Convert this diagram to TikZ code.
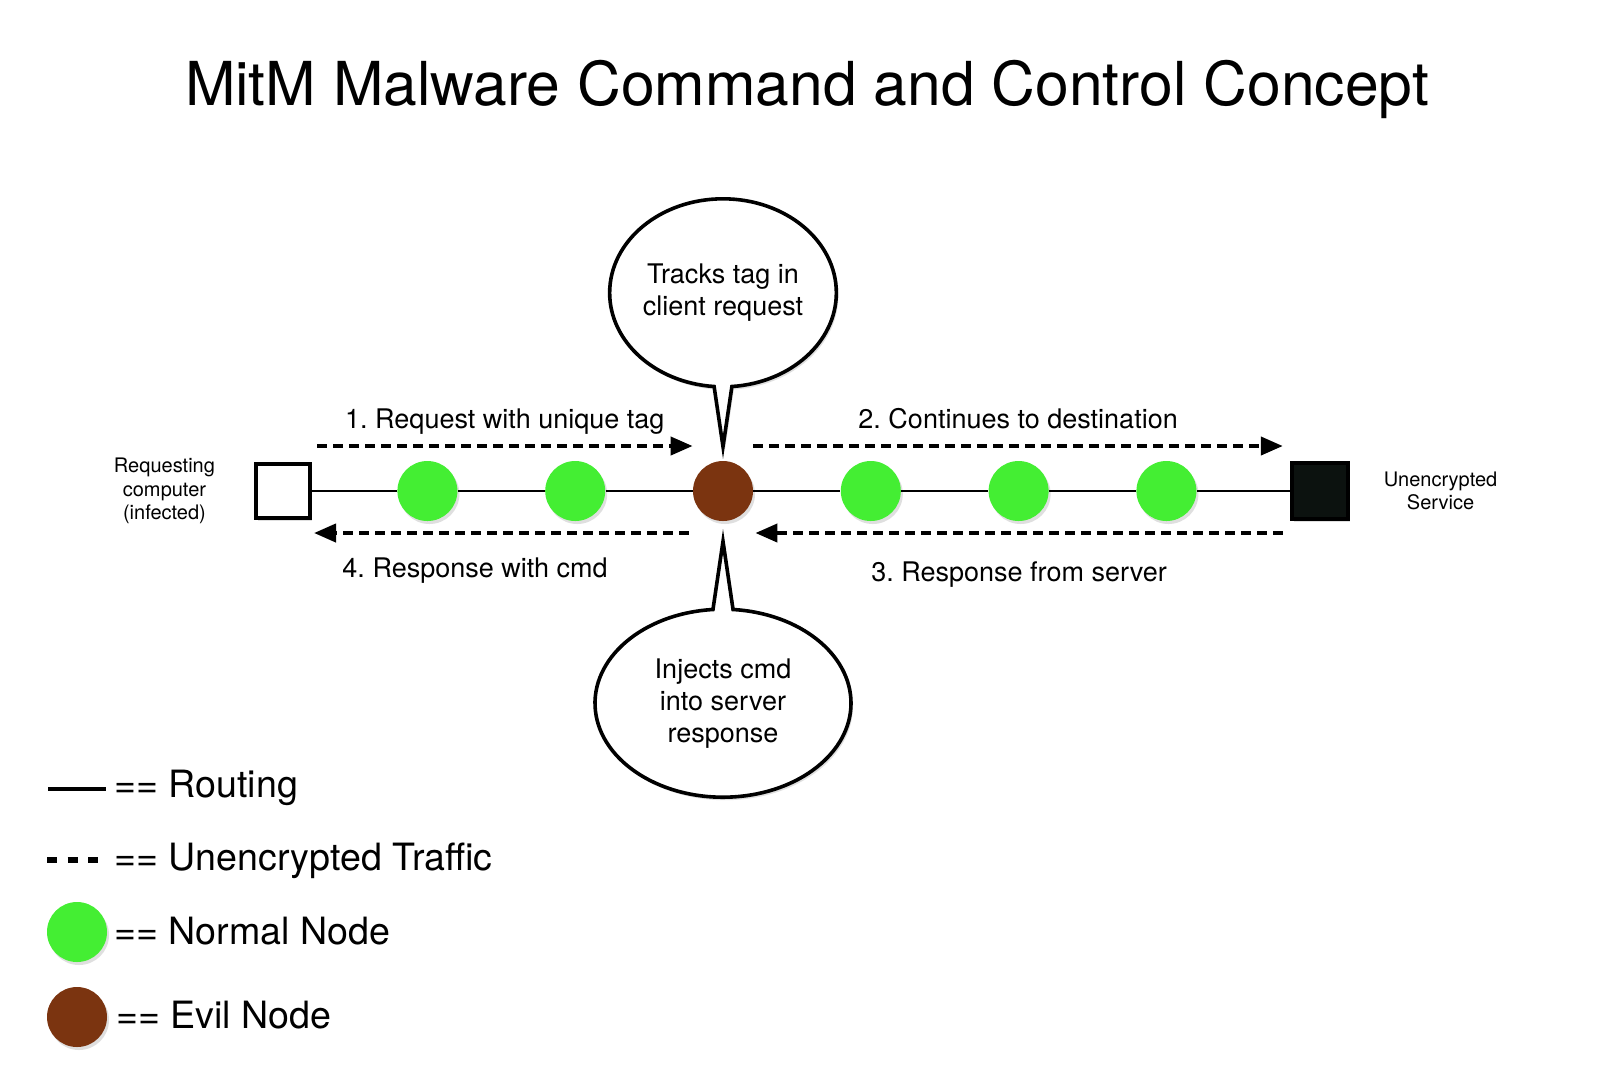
\documentclass[tikz,border=0pt]{standalone}
\usepackage{fontspec}
\setmainfont{TeX Gyre Heros}
\usetikzlibrary{arrows.meta,positioning,calc,shapes.callouts,shadows}
\usepackage{xcolor}
\definecolor{normal}{HTML}{44EE33}
\definecolor{evil}{HTML}{7B3410}
\definecolor{server}{HTML}{0C120F}
\frenchspacing

\begin{document}
\begin{tikzpicture}[
    x=0.5pt, y=-0.5pt,
    node distance=43.5pt,
    shade/.style={drop shadow={opacity=0.25, shadow xshift=1pt, shadow yshift=-1.5pt}},
    hop/.style={circle, fill=normal, minimum size=30pt, inner sep=0pt, shade},
    evilhop/.style={hop, fill=evil},
    host/.style={rectangle, draw, line width=2pt, minimum size=27pt, inner sep=0pt, fill=white, shade},
    route/.style={line width=1pt},
    traffic/.style={line width=2pt, dash pattern=on 5pt off 3pt, -{Triangle[length=11pt,width=9pt]}},
    bubble/.style={ellipse callout, draw, line width=1.8pt, fill=white, align=center, inner sep=0pt,
                   callout pointer arc=9, font=\fontsize{13.5}{16}\selectfont, shade},
    lbl/.style={font=\fontsize{13.5}{16}\selectfont, anchor=base},
    side/.style={align=center, font=\fontsize{10}{11.7}\selectfont},
    legend/.style={anchor=base west, inner sep=0pt, font=\fontsize{18.8}{22}\selectfont},
  ]
    \useasboundingbox (0,0) rectangle (1600,1084);
    \fill[white] (0,0) rectangle (1600,1084);

    \node[font=\fontsize{30.3}{36}\selectfont, anchor=base] (title) at (807,105)
      {MitM Malware Command and Control Concept};

    % route through the hops
    \node[evilhop] (evil) at (723,491) {};
    \node[hop, left=of evil] (n2) {};
    \node[hop, left=of n2] (n1) {};
    \node[host, left=42.5pt of n1] (pc) {};
    \node[hop, right=of evil] (n3) {};
    \node[hop, right=of n3] (n4) {};
    \node[hop, right=of n4] (n5) {};
    \node[host, fill=server, minimum size=28pt, right=46.5pt of n5] (srv) {};

    \node[side, left=16pt of pc] (pclabel) {Requesting\\computer\\(infected)};
    \node[side, right=13.5pt of srv] (srvlabel) {Unencrypted\\Service};

    \draw[route] (pc) -- (n1) -- (n2) -- (evil) -- (n3) -- (n4) -- (n5) -- (srv);

    % traffic
    \coordinate (up) at (0,446);
    \coordinate (dn) at (0,533);
    \draw[traffic] ($(pc.east |- up)+(5,0)$) -- node[lbl, yshift=9pt] {1. Request with unique tag} (evil.west |- up);
    \draw[traffic] (evil.east |- up) -- node[lbl, yshift=9pt] {2. Continues to destination} ($(srv.west |- up)+(-7,0)$);
    \draw[traffic] ($(srv.west |- dn)+(-7,0)$) -- node[lbl, yshift=-24pt] {3. Response from server} ($(evil.east |- dn)+(2,0)$);
    \draw[traffic] ($(evil.west |- dn)+(-4,0)$) -- node[lbl, pos=0.57, yshift=-22pt] {4. Response with cmd} ($(pc.east |- dn)+(2,0)$);

    % callouts
    \node[bubble, minimum width=108pt, minimum height=94pt, above=36pt of evil,
          callout absolute pointer={([yshift=7pt]evil.north)}] (track) {Tracks tag in\\client request};
    \node[bubble, minimum width=128pt, minimum height=94pt, below=43pt of evil,
          callout absolute pointer={([yshift=-10pt]evil.south)}] (inject) {Injects cmd\\into server\\response};

    % legend
    \coordinate (lgra) at (48,789);
    \coordinate (lgrb) at (106,789);
    \draw[line width=1.6pt] (lgra) -- (lgrb);
    \node[legend] (lgroute) at (114,797) {== Routing};
    \coordinate (lgta) at (47,860);
    \coordinate (lgtb) at (99,860);
    \draw[line width=2.6pt, dash pattern=on 5pt off 5.25pt] (lgta) -- (lgtb);
    \node[legend] (lgtraffic) at (114,870) {== Unencrypted Traffic};
    \node[hop] (lgnormal) at (77,932) {};
    \node[legend] (lgnormaltext) at (114,944) {== Normal Node};
    \node[evilhop] (lgevil) at (77,1017) {};
    \node[legend] (lgeviltext) at (116,1028) {== Evil Node};
  \end{tikzpicture}
\end{document}
